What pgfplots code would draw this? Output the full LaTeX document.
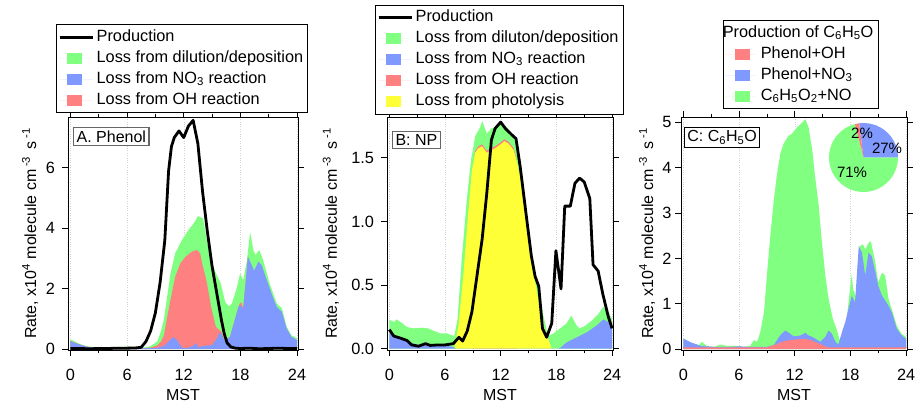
\documentclass[border=0pt]{standalone}
\usepackage{fontspec}
\setmainfont{Liberation Sans}
\usepackage{pgfplots}
\pgfplotsset{compat=1.18}
\definecolor{cgreen}{RGB}{128,255,128}
\definecolor{cblue}{RGB}{128,153,255}
\definecolor{cred}{RGB}{255,128,128}
\definecolor{cyellow}{RGB}{255,255,56}
\pgfplotsset{
  panel/.style={
    scale only axis, width=#1, height=233pt,
    xmin=-0.25, xmax=24.1,
    xtick={0,6,12,18,24}, minor xtick={3,9,15,21},
    tick align=outside, tick pos=both,
    major tick length=6pt, minor tick length=3pt,
    every tick/.style={black, line width=0.6pt},
    axis line style={black, line width=0.8pt},
    xmajorgrids, major grid style={gray!35, dotted, line width=0.4pt},
    /pgf/number format/assume math mode=true,
    ticklabel style={font=\fontsize{16.3}{19}\selectfont},
    xticklabel style={yshift=-8pt},
    xlabel={MST},
    xlabel style={at={(axis description cs:0.5,0)}, anchor=center, yshift=-45pt},
    ylabel={Rate, x10\textsuperscript{4} molecule cm\,\textsuperscript{-3}\, s\,\textsuperscript{-1}},
    legend cell align=left,
    legend style={draw=black, line width=0.6pt, anchor=south west, inner sep=2pt, row sep=0pt,
      font=\fontsize{16.3}{19}\selectfont,
      nodes={inner sep=2.5pt, text height=12pt, text depth=4pt}},
  },
  area/.style={fill=#1, draw=none,
    legend image code/.code={\path (0pt,0pt) -- (33pt,0pt); \path[fill=#1] (7.5pt,-5.5pt) rectangle (22.5pt,5.5pt);}},
  areaC/.style={fill=#1, draw=none,
    legend image code/.code={\path (0pt,0pt) -- (30pt,0pt); \path[fill=#1] (10pt,-5.5pt) rectangle (25pt,5.5pt);}},
  prod/.style={black, line width=2.8pt, line join=round,
    legend image code/.code={\path (0pt,0pt) -- (33pt,0pt); \draw[black, line width=2.8pt] (0pt,0pt) -- (30pt,0pt);}},
}
\begin{document}
\fontsize{16}{19}\selectfont
\begin{tikzpicture}
\useasboundingbox (0,0) rectangle (918pt,405pt);
% ---------------- Panel A ----------------
\begin{axis}[panel=230pt, at={(68pt,55pt)}, anchor=south west,
  ymin=-0.03, ymax=7.68, ytick={0,2,4,6},
  yticklabel style={xshift=-1.5pt},
  ylabel style={at={(axis description cs:-0.165,0.5)}, anchor=center},
  legend style={at={(axis description cs:-0.052,1.017)}}]
\addlegendimage{prod}\addlegendentry{Production}
\addlegendimage{area=cgreen}\addlegendentry{Loss from dilution/deposition}
\addlegendimage{area=cblue}\addlegendentry{Loss from NO\textsubscript{3} reaction}
\addlegendimage{area=cred}\addlegendentry{Loss from OH reaction}
% total (green)
\addplot[area=cgreen, forget plot] coordinates {(0,0.32)(0.5,0.25)(1,0.17)(1.5,0.12)(2,0.08)(3,0.06)(4,0.06)(5,0.07)(6,0.08)(7,0.06)(8,0.06)(8.5,0.1)(9.2,0.25)(9.6,0.6)(9.9,0.97)(10.2,1.63)(10.6,2.5)(11.1,3.17)(11.8,3.6)(12.5,3.94)(13.06,4.16)(13.5,4.4)(14.05,4.33)(14.5,3.5)(15,2.84)(15.5,2.45)(15.9,2.2)(16.4,1.55)(16.8,1.42)(17.1,1.51)(17.6,2.0)(17.97,2.5)(18.3,2.28)(18.7,2.95)(19.03,3.87)(19.4,3.25)(19.6,3.12)(20,3.28)(20.4,2.95)(21.1,2.17)(21.85,1.51)(22.4,1.35)(22.9,0.74)(23.4,0.46)(24,0.36)} \closedcycle;
% NO3 + OH (red)
\addplot[area=cred, forget plot] coordinates {(0,0.27)(1,0.15)(2,0.06)(3,0.04)(6,0.07)(8,0.04)(8.5,0.05)(9.2,0.12)(9.6,0.25)(9.9,0.45)(10.2,0.97)(10.6,1.63)(11.1,2.4)(11.65,2.84)(12.2,3.06)(12.9,3.23)(13.4,3.28)(13.75,3.17)(13.95,2.84)(14.4,2.28)(14.9,1.4)(15.4,0.74)(16.0,0.57)(16.3,0.3)(16.9,0.4)(17.4,0.96)(17.8,1.4)(18.0,1.55)(18.15,1.5)(18.3,1.35)(18.8,3.06)} \closedcycle;
% NO3 (blue)
\addplot[area=cblue, forget plot] coordinates {(0,0.27)(0.5,0.2)(1,0.15)(1.5,0.1)(2,0.06)(3,0.04)(4,0.04)(5,0.05)(6,0.07)(7,0.05)(8,0.03)(9,0.04)(9.5,0.06)(10,0.12)(10.5,0.28)(10.9,0.4)(11.3,0.3)(11.7,0.1)(12,0.02)(12.5,0.05)(13,0.1)(13.3,0.2)(13.6,0.06)(14,0.1)(14.5,0.12)(15,0.13)(15.5,0.35)(15.86,0.57)(16.3,0.3)(16.9,0.4)(17.4,0.96)(17.8,1.4)(17.97,1.45)(18.3,1.35)(18.8,3.06)(19.2,2.78)(19.45,2.6)(19.9,2.89)(20.25,2.78)(20.8,2.28)(21.3,1.84)(21.85,1.4)(22.4,1.23)(22.9,0.68)(23.4,0.41)(24,0.3)} \closedcycle;
% production
\addplot[prod, forget plot] coordinates {(0,0.02)(1,0.02)(2,0.01)(3,0.02)(4,0.02)(5,0.03)(6,0.03)(7,0.04)(7.5,0.06)(8,0.25)(8.5,0.6)(9,1.2)(9.5,2.2)(10,3.6)(10.4,5.9)(10.7,6.7)(11,7.0)(11.5,7.22)(12,7.0)(12.5,7.38)(13,7.57)(13.5,6.8)(14,5.2)(14.5,3.9)(15,2.75)(15.5,1.85)(16,0.95)(16.3,0.5)(16.6,0.2)(17,0.07)(17.5,0.03)(18,0.02)(19,0.03)(20,0.01)(21,0.02)(22,0.03)(23,0.02)(24,0.02)};
\node[draw=black!60, line width=1.2pt, fill=white, anchor=north west, inner sep=3pt] at (rel axis cs:0.022,0.957) {A. Phenol};
\end{axis}
% ---------------- Panel B ----------------
\begin{axis}[panel=226pt, at={(387pt,55pt)}, anchor=south west,
  ymin=-0.01, ymax=1.82, ytick={0,0.5,1.0,1.5},
  yticklabel style={xshift=-1.5pt, /pgf/number format/.cd, fixed, fixed zerofill, precision=1},
  ylabel style={at={(axis description cs:-0.248,0.5)}, anchor=center},
  legend style={at={(axis description cs:-0.053,1.012)}}]
\addlegendimage{prod}\addlegendentry{Production}
\addlegendimage{area=cgreen}\addlegendentry{Loss from diluton/deposition}
\addlegendimage{area=cblue}\addlegendentry{Loss from NO\textsubscript{3} reaction}
\addlegendimage{area=cred}\addlegendentry{Loss from OH reaction}
\addlegendimage{area=cyellow}\addlegendentry{Loss from photolysis}
\addplot[area=cgreen, forget plot] coordinates {(0,0.23)(0.5,0.21)(0.8,0.23)(1.4,0.2)(1.9,0.17)(2.6,0.16)(3.5,0.165)(4.2,0.16)(4.8,0.14)(5.5,0.12)(6.2,0.12)(7,0.1)(7.35,0.23)(7.8,0.7)(8.35,1.17)(8.8,1.48)(9.25,1.67)(9.8,1.74)(10,1.79)(10.5,1.69)(11,1.73)(11.55,1.745)(12,1.78)(12.6,1.745)(13.2,1.69)(13.7,1.61)(14.1,1.46)(14.45,1.25)(15,0.91)(15.5,0.68)(16.05,0.49)(16.6,0.26)(17.1,0.1)(17.7,0.12)(18.4,0.16)(19.1,0.2)(19.6,0.26)(20.2,0.18)(20.5,0.16)(21.1,0.18)(21.8,0.22)(22.5,0.27)(23.05,0.33)(23.6,0.29)(24,0.23)} \closedcycle;
\addplot[area=cred, forget plot] coordinates {(9.0,1.4)(9.25,1.555)(9.6,1.59)(10,1.605)(10.5,1.555)(11,1.575)(11.4,1.59)(11.9,1.615)(12.4,1.645)(12.85,1.625)(13.4,1.575)(13.7,1.49)(13.8,1.4)} \closedcycle;
\addplot[area=cyellow, forget plot] coordinates {(7,0)(7.45,0.18)(8,0.6)(8.5,1.07)(8.9,1.4)(9.25,1.54)(9.6,1.575)(10,1.59)(10.5,1.54)(11,1.56)(11.4,1.575)(11.9,1.6)(12.4,1.63)(12.85,1.61)(13.4,1.56)(13.7,1.48)(14.1,1.35)(14.6,1.07)(15.2,0.76)(15.6,0.57)(16.05,0.39)(16.6,0.18)(17.1,0.08)(17.5,0)} \closedcycle;
\addplot[area=cblue, forget plot] coordinates {(0,0.12)(0.8,0.09)(1.9,0.06)(3,0.03)(4.4,0.026)(6.2,0.025)(7,0.01)(7.2,0)(18,0)(18.4,0.005)(19.1,0.05)(20.2,0.09)(21.3,0.13)(22.3,0.18)(23.05,0.23)(23.6,0.21)(24,0.16)} \closedcycle;
\addplot[prod, forget plot] coordinates {(0,0.15)(0.47,0.10)(1.2,0.083)(1.9,0.065)(2.4,0.03)(3.15,0.02)(3.9,0.04)(4.4,0.026)(5.3,0.03)(6.0,0.03)(6.9,0.04)(7.5,0.09)(7.9,0.06)(8.4,0.14)(8.9,0.29)(9.4,0.55)(10.0,0.86)(10.5,1.22)(11.0,1.64)(11.4,1.73)(12.0,1.78)(12.5,1.73)(13.2,1.68)(13.65,1.65)(14.1,1.43)(14.8,1.02)(15.3,0.73)(15.7,0.57)(16.1,0.49)(16.5,0.16)(16.95,0.09)(17.5,0.2)(17.95,0.77)(18.5,0.47)(18.9,1.12)(19.5,1.12)(20.0,1.30)(20.5,1.34)(21.0,1.31)(21.6,1.18)(21.95,0.66)(22.5,0.61)(23.0,0.43)(23.6,0.25)(24,0.16)};
\node[draw=black!60, line width=1.2pt, fill=white, anchor=north west, inner sep=3pt] at (rel axis cs:0.022,0.94) {B: NP};
\end{axis}
% ---------------- Panel C ----------------
\begin{axis}[panel=226pt, at={(681pt,55pt)}, anchor=south west,
  ymin=-0.02, ymax=5.12, ytick={0,1,2,3,4,5},
  yticklabel style={xshift=2pt},
  ylabel style={at={(axis description cs:-0.15,0.5)}, anchor=center},
  legend style={at={(axis description cs:0.186,1.034)}}]
\addlegendimage{empty legend}\addlegendentry{\hspace*{-35pt}Production of C\textsubscript{6}H\textsubscript{5}O}
\addlegendimage{areaC=cred}\addlegendentry{\hspace*{3pt}Phenol+OH}
\addlegendimage{areaC=cblue}\addlegendentry{\hspace*{3pt}Phenol+NO\textsubscript{3}}
\addlegendimage{areaC=cgreen}\addlegendentry{\hspace*{3pt}C\textsubscript{6}H\textsubscript{5}O\textsubscript{2}+NO}
\addplot[area=cgreen, forget plot] coordinates {(0,0.23)(1.0,0.12)(1.7,0.09)(2.0,0.16)(2.5,0.07)(3.3,0.05)(4.0,0.1)(4.7,0.07)(5.8,0.07)(6.5,0.05)(7.2,0.07)(7.6,0.2)(7.95,0.16)(8.3,0.38)(8.7,0.82)(9.0,1.62)(9.4,2.56)(9.75,3.29)(10.1,3.87)(10.45,4.31)(10.8,4.53)(11.35,4.71)(11.7,4.75)(12.25,4.89)(12.8,5.0)(13.15,5.07)(13.5,4.89)(13.9,4.38)(14.2,3.8)(14.6,3.14)(14.9,2.42)(15.3,1.62)(15.65,1.11)(16.1,0.67)(16.5,0.45)(16.9,0.16)(17.25,0.34)(17.6,0.67)(18.0,1.4)(18.15,1.65)(18.3,1.32)(18.7,1.1)(19.0,2.27)(19.35,2.31)(19.6,2.2)(19.95,2.34)(20.2,2.38)(20.7,1.9)(21.0,1.47)(21.4,1.69)(21.75,1.62)(22.1,1.11)(22.45,0.89)(23.0,0.52)(23.5,0.34)(24,0.27)} \closedcycle;
\addplot[area=cblue, forget plot] coordinates {(0,0.23)(0.8,0.15)(1.9,0.07)(3.3,0.05)(5,0.05)(6,0.06)(7,0.05)(9,0.05)(9.75,0.09)(10.45,0.31)(11,0.41)(11.5,0.34)(11.9,0.28)(12.6,0.3)(13.15,0.36)(13.5,0.3)(14,0.26)(14.75,0.16)(15.3,0.27)(15.65,0.41)(16,0.34)(16.4,0.16)(16.7,0.1)(17.1,0.38)(17.45,0.6)(17.8,0.89)(18.15,1.18)(18.5,1.03)(18.9,2.27)(19.25,2.13)(19.6,1.62)(19.95,2.13)(20.3,2.05)(20.7,1.69)(21.0,1.4)(21.4,1.18)(22.1,0.96)(22.45,0.82)(23.0,0.45)(23.5,0.31)(24,0.22)} \closedcycle;
\addplot[area=cred, forget plot] coordinates {(0,0.04)(9,0.04)(9.5,0.07)(10,0.1)(10.45,0.15)(11,0.18)(11.5,0.2)(12,0.21)(12.6,0.22)(13.2,0.22)(13.7,0.2)(14.2,0.16)(14.75,0.11)(15.2,0.07)(15.6,0.04)(24,0.04)} \closedcycle;
\node[draw=black, line width=0.8pt, fill=white, anchor=north west, inner sep=3pt] at (rel axis cs:0.013,0.957) {C: C\textsubscript{6}H\textsubscript{5}O};
\end{axis}
% pie chart inset (2% / 27% / 71%)
\begin{scope}[shift={(863.5pt,247.5pt)}]
\fill[cgreen] (0,0) -- (104.4:34.5pt) arc[start angle=104.4, end angle=360, radius=34.5pt] -- cycle;
\fill[cblue] (0,0) -- (0:34.5pt) arc[start angle=0, end angle=97.2, radius=34.5pt] -- cycle;
\fill[cred] (0,0) -- (97.2:34.5pt) arc[start angle=97.2, end angle=104.4, radius=34.5pt] -- cycle;
\end{scope}
\begin{scope}[every node/.style={font=\fontsize{15}{18}\selectfont, inner sep=0pt}]
\node at (862pt,272pt) {2\%};
\node at (887pt,257pt) {27\%};
\node at (852pt,233pt) {71\%};
\end{scope}
\end{tikzpicture}
\end{document}
